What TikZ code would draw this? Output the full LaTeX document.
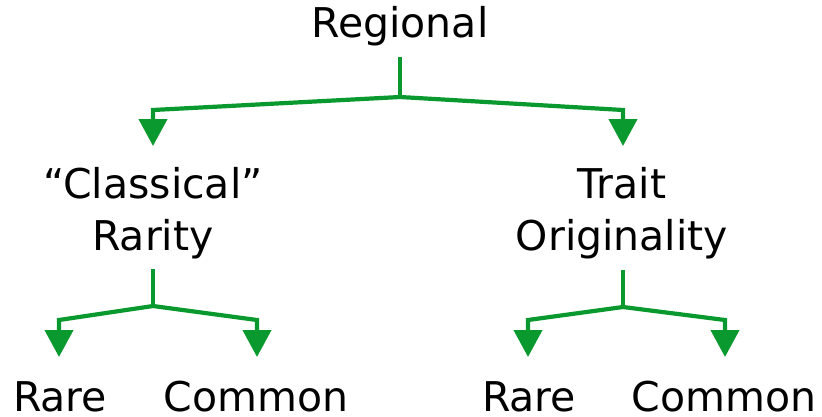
\documentclass[tikz,border=0pt]{standalone}
\usepackage{fontspec}
\setmainfont{DejaVu Sans}
\usetikzlibrary{arrows.meta}
\definecolor{branchgreen}{RGB}{10,153,46}

\begin{document}
\begin{tikzpicture}[x=1pt,y=-1pt,
	word/.style={font=\fontsize{41}{52}\selectfont, align=center, anchor=base, inner sep=0pt},
	branch/.style={draw=branchgreen, line width=4.2pt},
	tip/.style={branch, -{Triangle[length=27pt,width=28pt]}}]
	
	\useasboundingbox (0,0) rectangle (822,416);
	
	\node[word] (regional) at (400,37)  {Regional};
	\node[word] (classical) at (153,250) {“Classical”\\Rarity};
	\node[word] (trait)     at (622,250) {Trait\\Originality};
	\node[word] (rareL)     at (60,411)  {Rare};
	\node[word] (commonL)   at (256,411) {Common};
	\node[word] (rareR)     at (529,411) {Rare};
	\node[word] (commonR)   at (724,411) {Common};
	
	% junctions
	\coordinate (j0) at (400,97);
	\coordinate (j1) at (153,306);
	\coordinate (j2) at (623,307);
	
	% corners and tips
	\coordinate (k0l) at (153,110);  \coordinate (a0l) at (153,146);
	\coordinate (k0r) at (623,110);  \coordinate (a0r) at (623,146);
	\coordinate (k1l) at (59,320);   \coordinate (a1l) at (59,357);
	\coordinate (k1r) at (257,320);  \coordinate (a1r) at (257,357);
	\coordinate (k2l) at (528,320);  \coordinate (a2l) at (528,357);
	\coordinate (k2r) at (725,320);  \coordinate (a2r) at (725,357);
	
	\draw[branch] (400,57) -- (j0);
	\draw[tip] (j0) -- (k0l) -- (a0l);
	\draw[tip] (j0) -- (k0r) -- (a0r);
	
	\draw[branch] (153,269) -- (j1);
	\draw[tip] (j1) -- (k1l) -- (a1l);
	\draw[tip] (j1) -- (k1r) -- (a1r);
	
	\draw[branch] (623,270) -- (j2);
	\draw[tip] (j2) -- (k2l) -- (a2l);
	\draw[tip] (j2) -- (k2r) -- (a2r);
	
\end{tikzpicture}
\end{document}
